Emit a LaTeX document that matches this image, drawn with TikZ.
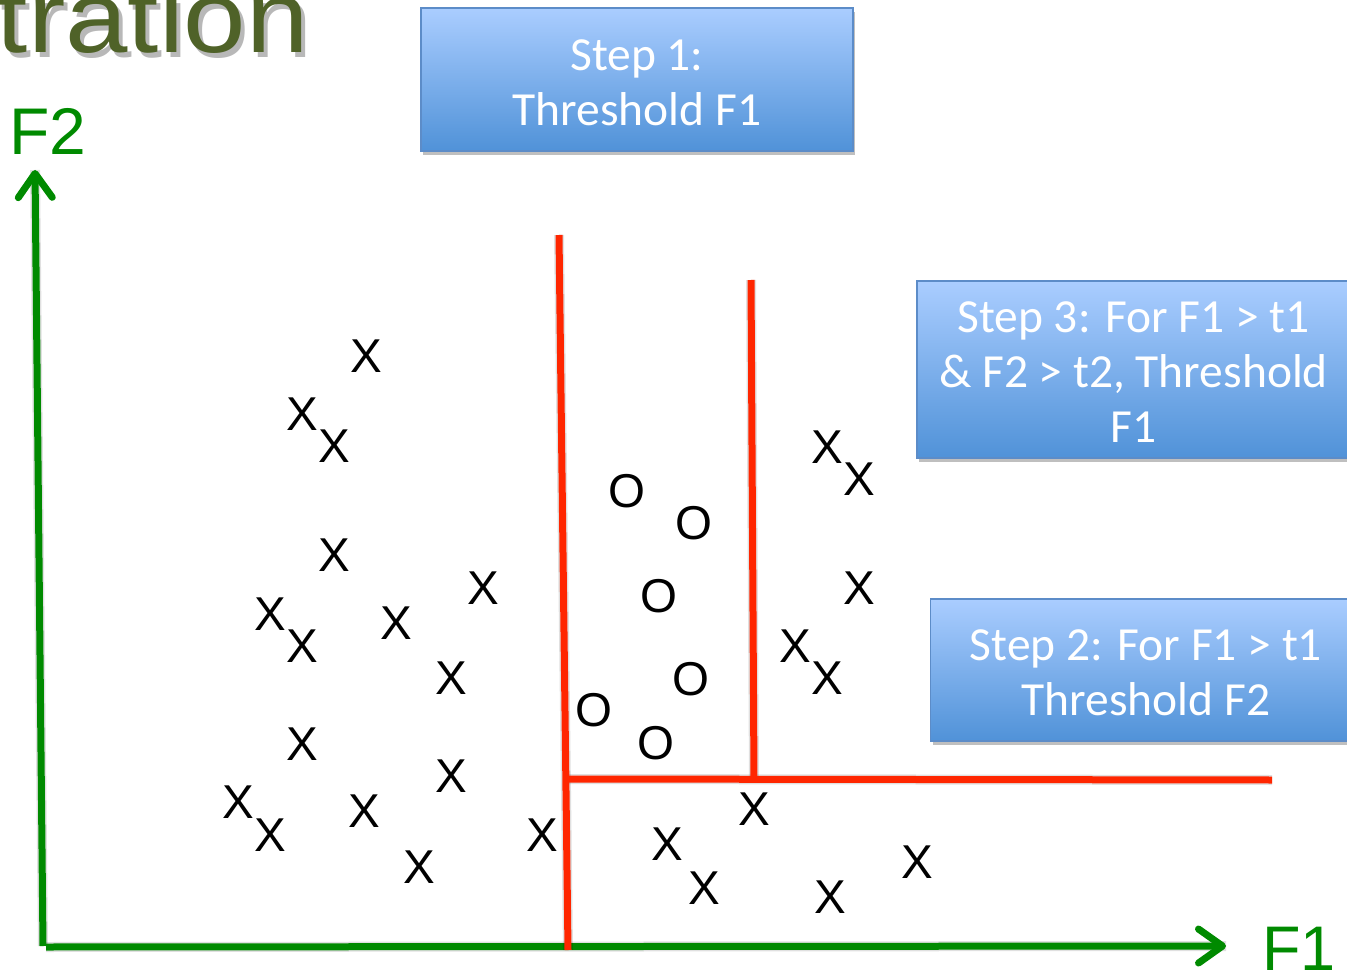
\documentclass[tikz,border=0pt]{standalone}
\usepackage{fontspec}
\usepackage{graphicx}
\setmainfont{Liberation Sans}
\newfontfamily\boxfont{Carlito}
\usetikzlibrary{arrows.meta,shadows}

\definecolor{axisgreen}{RGB}{0,138,0}
\definecolor{cutred}{RGB}{255,38,0}
\definecolor{titleolive}{RGB}{79,98,40}
\definecolor{boxtop}{RGB}{170,205,255}
\definecolor{boxbottom}{RGB}{80,146,216}
\definecolor{boxedge}{RGB}{92,140,200}

\begin{document}
\begin{tikzpicture}[x=1pt,y=-1pt,
  sample/.style={font=\fontsize{47.5}{50}\selectfont, inner sep=0pt, text=black},
  stepbox/.style={draw=boxedge, line width=1.3pt, top color=boxtop, bottom color=boxbottom,
    inner sep=0pt, drop shadow={shadow xshift=2pt, shadow yshift=-4pt, opacity=0.25, fill=black}},
  boxtext/.style={text=white, align=center, inner sep=0pt,
    font=\boxfont\fontsize{47.5}{55}\selectfont},
  axis/.style={draw=axisgreen, line width=7pt},
  cut/.style={draw=cutred, line width=7pt},
  lineshadow/.style={draw=black, line width=10pt, opacity=0.12, shift={(2,4)}},
  barb/.style={-{Straight Barb[length=24pt, width=34pt, round]}},
  axislabel/.style={text=axisgreen, inner sep=0pt, anchor=base west},
  titletext/.style={anchor=base east, inner sep=0pt, font=\fontsize{102}{110}\selectfont},
]
\useasboundingbox (0,0) rectangle (1347,976);
\clip (0,0) rectangle (1347,976);

% slide title, cut off at the top left
\node[titletext, text=black, opacity=0.28] (titleshadow) at (313,58) {\scalebox{1.1}[1]{tration}};
\node[titletext, text=titleolive] (title) at (309,53) {\scalebox{1.1}[1]{tration}};

% step boxes and their captions
\node[stepbox, minimum width=432pt, minimum height=143pt] (step1) at (637,79.5) {};
\node[stepbox, minimum width=433pt, minimum height=177pt] (step3) at (1133.5,369.5) {};
\node[stepbox, minimum width=431pt, minimum height=142pt] (step2) at (1146,670) {};
\node[boxtext] (step1text) at ([yshift=-3pt]step1.center) {Step 1:\\Threshold F1};
\node[boxtext] (step3text) at ([yshift=-3pt]step3.center) {Step 3: For F1 > t1\\\& F2 > t2, Threshold\\F1};
\node[boxtext] (step2text) at ([yshift=-3pt]step2.center) {Step 2: For F1 > t1\\Threshold F2};

% axes
\coordinate (origin) at (43,946);
\coordinate (ytip) at (35,170);
\coordinate (xstart) at (46,947);
\coordinate (xtip) at (1226,946);
\draw[lineshadow] (origin) -- (ytip);
\draw[lineshadow] (xstart) -- (xtip);
\draw[axis, barb] (origin) -- (ytip);
\draw[axis, barb] (xstart) -- (xtip);
\node[axislabel, font=\fontsize{66}{70}\selectfont] (f2) at (9,155) {F2};
\node[axislabel, font=\fontsize{63}{70}\selectfont] (f1) at (1262,970) {F1};

% decision boundaries
\coordinate (t1top) at (559,235);
\coordinate (t1bot) at (568,950);
\coordinate (t2left) at (566,779);
\coordinate (t2right) at (1272,780);
\coordinate (t3top) at (751,280);
\coordinate (t3bot) at (754,779);
\draw[lineshadow] (t1top) -- (t1bot);
\draw[lineshadow] (t2left) -- (t2right);
\draw[lineshadow] (t3top) -- (t3bot);
\draw[cut] (t1top) -- (t1bot);
\draw[cut] (t2left) -- (t2right);
\draw[cut] (t3top) -- (t3bot);

% class X samples
\foreach \px/\py [count=\i] in {366/356, 302/414, 334/446, 334/555, 483/588, 270/614,
    302/646, 396/623, 451/678, 302/744, 451/776, 238/802, 270/835, 364/811, 419/867,
    542/835, 827/447, 859/479, 859/588, 795/646, 827/678, 754/809, 667/844, 704/888,
    830/897, 917/862}
  \node[sample] (x\i) at (\px,\py) {X};

% class O samples
\foreach \px/\py [count=\i] in {627/491, 694/523, 659/596, 691/679, 594/710, 656/743}
  \node[sample] (o\i) at (\px,\py) {O};
\end{tikzpicture}
\end{document}
